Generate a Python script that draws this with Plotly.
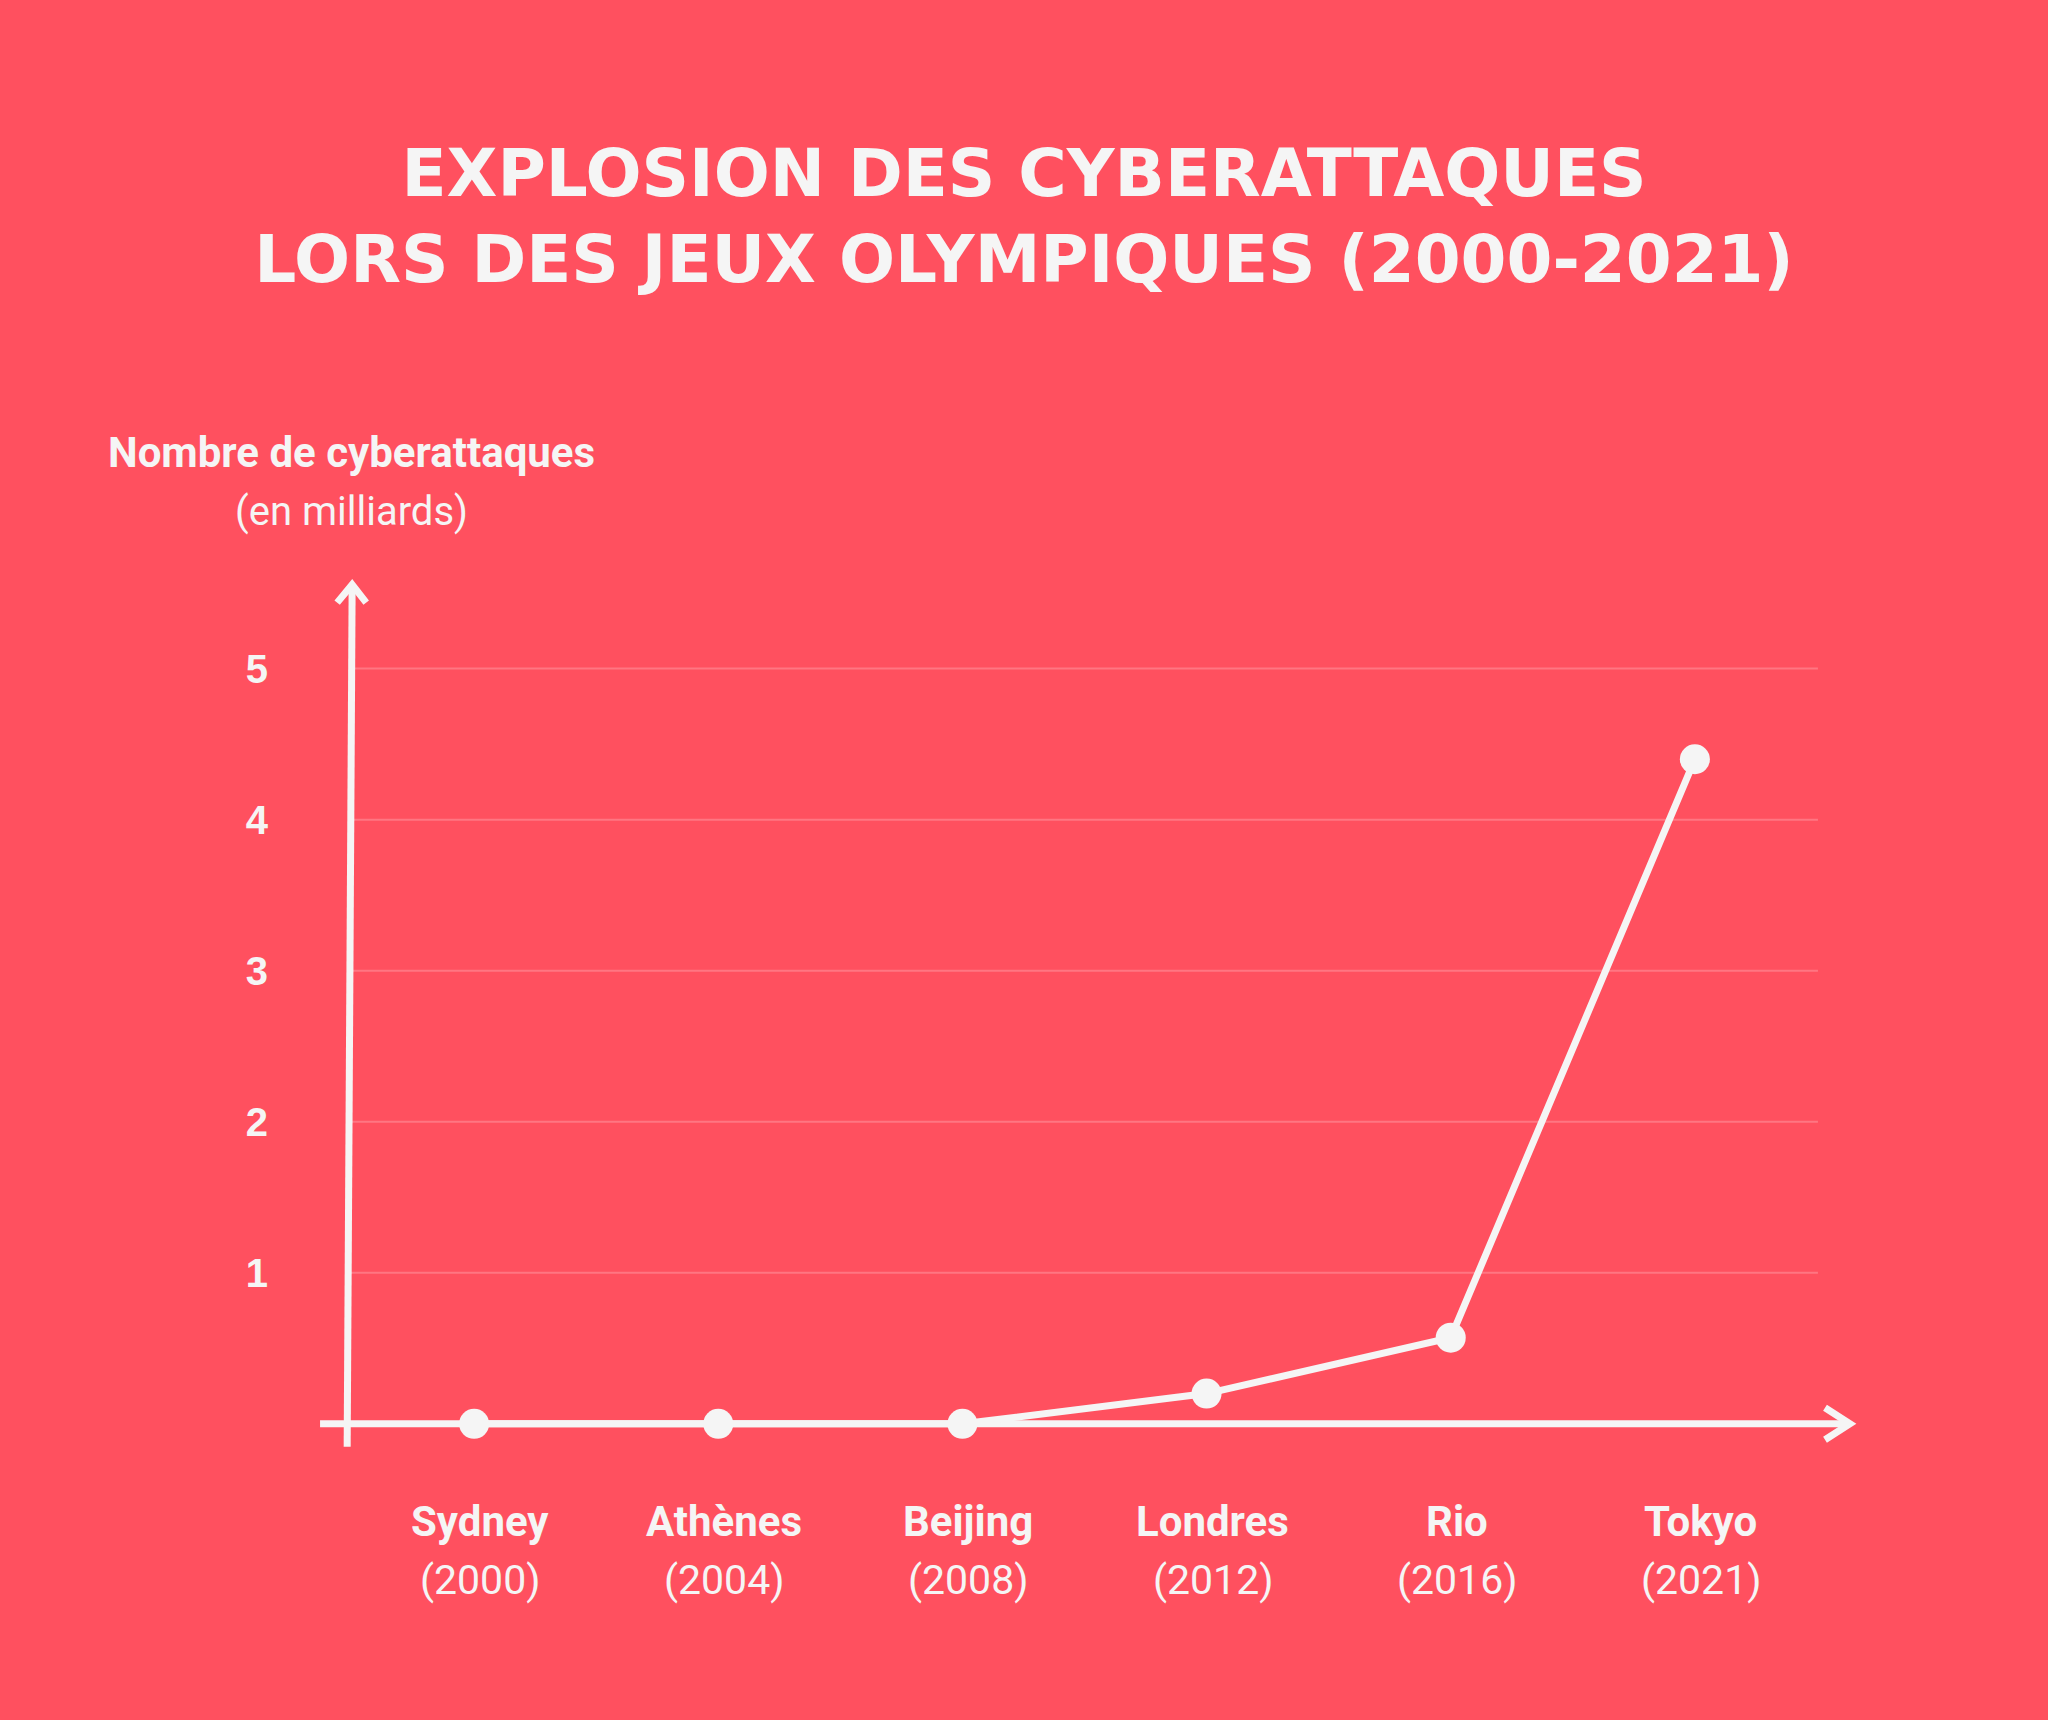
import plotly.graph_objects as go

# ---- data ----
cities = ["Sydney", "Athènes", "Beijing", "Londres", "Rio", "Tokyo"]
years = ["2000", "2004", "2008", "2012", "2016", "2021"]
attacks_bn = [0, 0, 0, 0.2, 0.57, 4.4]
y_ticks = [1, 2, 3, 4, 5]
y_tick_text = ["1", "2", "3", "4", "5"]

title_text = "EXPLOSION DES CYBERATTAQUES<br>LORS DES JEUX OLYMPIQUES (2000-2021)"
y_title = "Nombre de cyberattaques"
y_subtitle = "(en milliards)"

# ---- styles ----
BG = "#FF505F"
FG = "#F5F5F5"
GRID = "rgba(255,255,255,0.22)"
AX_W = 7

idx = list(range(len(cities)))

fig = go.Figure()
fig.add_trace(go.Scatter(
    x=idx, y=attacks_bn, mode="lines+markers",
    line=dict(color=FG, width=7),
    marker=dict(size=30, color=FG),
    hoverinfo="skip", showlegend=False, cliponaxis=False,
))

shapes = []
# gridlines
for t in y_ticks:
    shapes.append(dict(type="line", xref="x", yref="y", x0=-0.512, x1=5.504, y0=t, y1=t,
                       line=dict(color=GRID, width=2), layer="below"))
# x axis with arrow
shapes.append(dict(type="line", xref="x", yref="y", x0=-0.631, x1=5.62, y0=0, y1=0,
                   line=dict(color=FG, width=AX_W), layer="below"))
shapes.append(dict(type="path", xref="x", yref="y",
                   path="M 5.533 0.106 L 5.635 0 L 5.533 -0.106",
                   line=dict(color=FG, width=AX_W), layer="below"))
# y axis with arrow
shapes.append(dict(type="line", xref="x", yref="y", x0=-0.520, x1=-0.4996, y0=-0.152, y1=5.54,
                   line=dict(color=FG, width=AX_W), layer="below"))
shapes.append(dict(type="path", xref="x", yref="y",
                   path="M -0.561 5.437 L -0.4996 5.556 L -0.442 5.437",
                   line=dict(color=FG, width=AX_W), layer="below"))

PLOT_TOP, PLOT_H = 578, 876


def ypaper(px):
    return (PLOT_TOP + PLOT_H - px) / PLOT_H


annotations = [
    dict(text=f"<b>{y_title}</b>", xref="paper", yref="paper",
         x=(351 - 291) / 1587, y=ypaper(453), xanchor="center", yanchor="middle",
         showarrow=False, font=dict(family="Roboto", size=42, color=FG)),
    dict(text=y_subtitle, xref="paper", yref="paper",
         x=(351 - 291) / 1587, y=ypaper(512), xanchor="center", yanchor="middle",
         showarrow=False, font=dict(family="Roboto", size=40, color=FG)),
]
for i, (c, yr) in enumerate(zip(cities, years)):
    annotations.append(dict(text=f"<b>{c}</b>", xref="x", yref="paper", x=i, y=ypaper(1521),
                            xanchor="center", yanchor="middle", xshift=6, showarrow=False,
                            font=dict(family="Roboto", size=42, color=FG)))
    annotations.append(dict(text=f"({yr})", xref="x", yref="paper", x=i, y=ypaper(1580),
                            xanchor="center", yanchor="middle", xshift=6, showarrow=False,
                            font=dict(family="Roboto", size=41, color=FG)))

fig.update_layout(
    width=2048, height=1720, autosize=False,
    paper_bgcolor=BG, plot_bgcolor=BG,
    margin=dict(l=291, r=170, t=578, b=266, pad=0),
    shapes=shapes,
    title=dict(text=title_text, x=0.5, xref="container", xanchor="center",
               y=1 - 196 / 1720, yref="container", yanchor="middle",
               font=dict(family="DejaVu Sans", size=66, color=FG, weight="bold")),
    xaxis=dict(range=[-0.75, 5.75], tickvals=idx, showticklabels=False,
               showgrid=False, zeroline=False, showline=False, ticks="", fixedrange=True),
    yaxis=dict(range=[-0.2, 5.6], tickvals=y_ticks, ticktext=y_tick_text,
               tickfont=dict(family="Liberation Sans", size=40, color=FG, weight="bold"),
               showgrid=False, zeroline=False, showline=False, ticks="",
               ticklabelstandoff=22, fixedrange=True),
    annotations=annotations,
)

fig.write_html("out.html")
